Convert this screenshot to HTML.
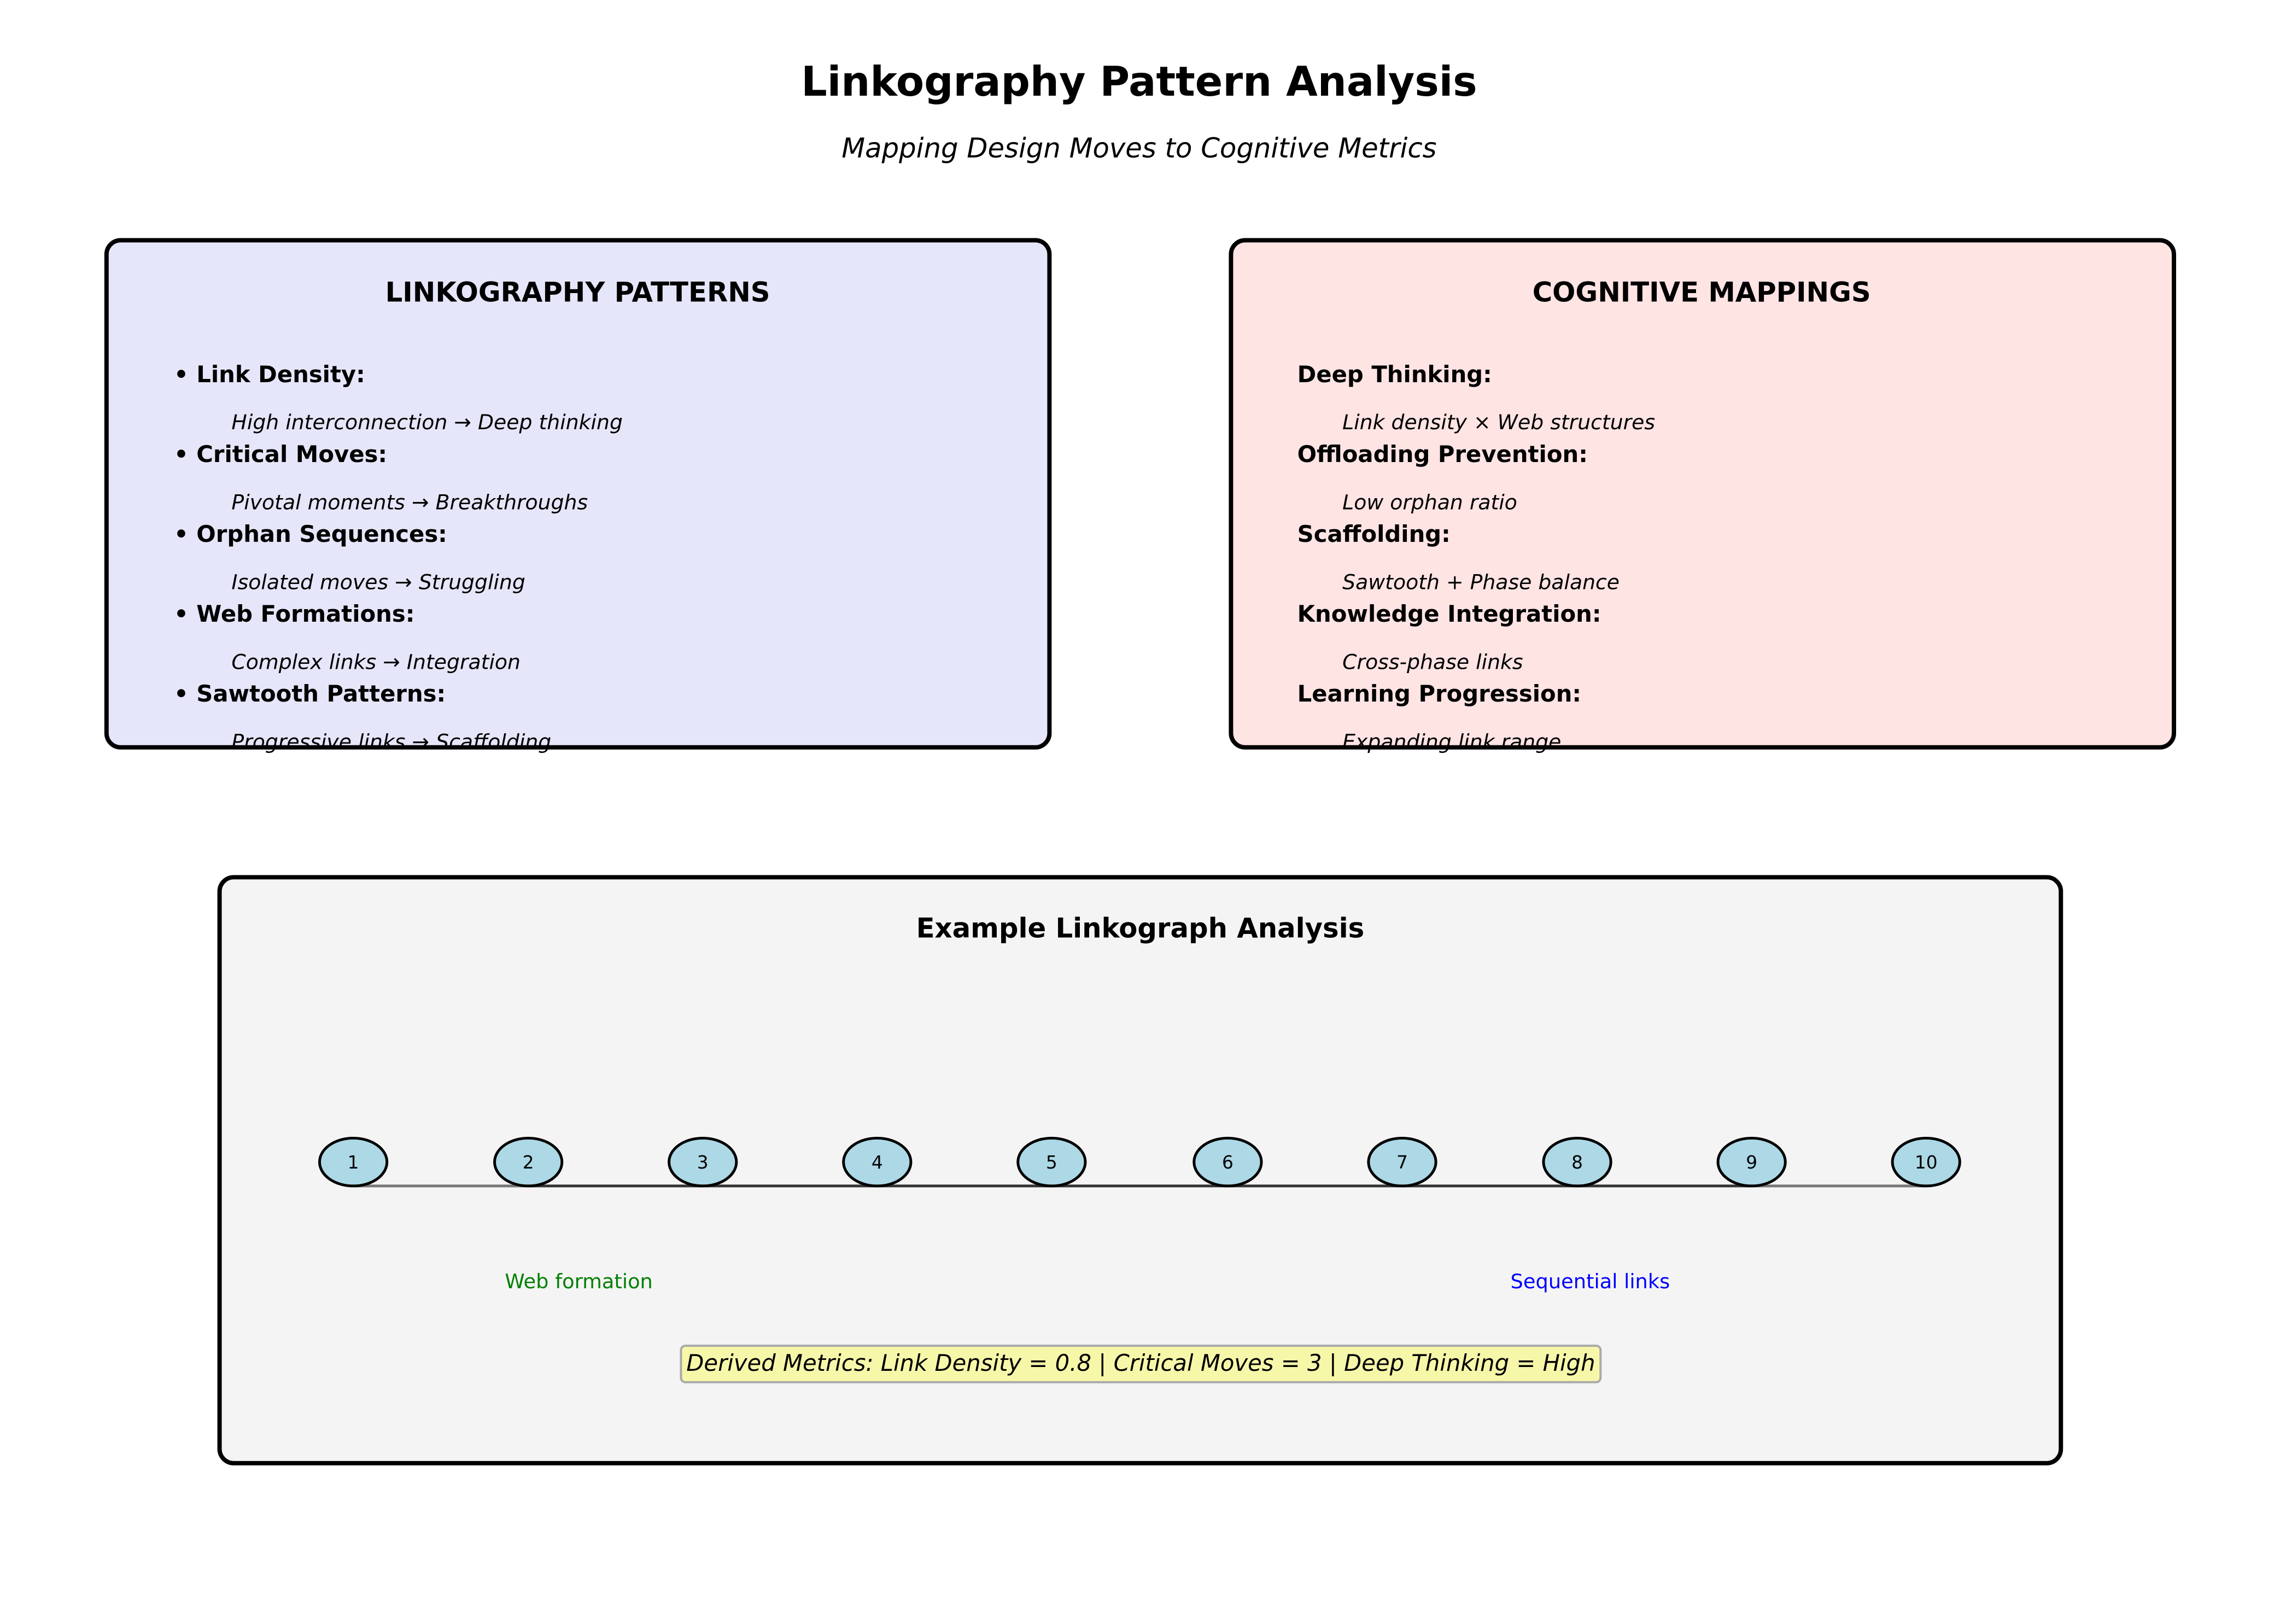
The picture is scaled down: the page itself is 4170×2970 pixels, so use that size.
<!DOCTYPE html>
<html><head><meta charset="utf-8"><style>
html,body{margin:0;padding:0;background:#fff;}
svg{display:block;}
text{font-family:"DejaVu Sans","Liberation Sans",sans-serif;}
</style></head><body>
<svg width="4170" height="2970" viewBox="0 0 4170 2970" xmlns="http://www.w3.org/2000/svg">
<rect width="4170" height="2970" fill="#fff"/>
<g transform="scale(0.994)">
<text x="2096" y="176" font-size="75" font-weight="bold" text-anchor="middle">Linkography Pattern Analysis</text>
<text x="2096" y="290" font-size="50" font-style="italic" text-anchor="middle">Mapping Design Moves to Cognitive Metrics</text>

<rect x="196" y="442" width="1735" height="933" rx="26" fill="#e6e6fa" stroke="#000" stroke-width="8"/>
<text x="1063" y="555" font-size="50" font-weight="bold" text-anchor="middle">LINKOGRAPHY PATTERNS</text>
<g font-size="42" font-weight="bold">
<text x="320" y="703">• Link Density:</text>
<text x="320" y="850">• Critical Moves:</text>
<text x="320" y="997">• Orphan Sequences:</text>
<text x="320" y="1144">• Web Formations:</text>
<text x="320" y="1291">• Sawtooth Patterns:</text>
</g>
<g font-size="38" font-style="italic">
<text x="426" y="790">High interconnection → Deep thinking</text>
<text x="426" y="937">Pivotal moments → Breakthroughs</text>
<text x="426" y="1084">Isolated moves → Struggling</text>
<text x="426" y="1231">Complex links → Integration</text>
<text x="426" y="1378">Progressive links → Scaffolding</text>
</g>

<rect x="2265" y="442" width="1735" height="933" rx="26" fill="#ffe4e4" stroke="#000" stroke-width="8"/>
<text x="3131" y="555" font-size="50" font-weight="bold" text-anchor="middle">COGNITIVE MAPPINGS</text>
<g font-size="42" font-weight="bold">
<text x="2387" y="703">Deep Thinking:</text>
<text x="2387" y="850">Offloading Prevention:</text>
<text x="2387" y="997">Scaffolding:</text>
<text x="2387" y="1144">Knowledge Integration:</text>
<text x="2387" y="1291">Learning Progression:</text>
</g>
<g font-size="38" font-style="italic">
<text x="2470" y="790">Link density × Web structures</text>
<text x="2470" y="937">Low orphan ratio</text>
<text x="2470" y="1084">Sawtooth + Phase balance</text>
<text x="2470" y="1231">Cross-phase links</text>
<text x="2470" y="1378">Expanding link range</text>
</g>

<rect x="404" y="1614" width="3388" height="1078" rx="26" fill="#f4f4f4" stroke="#000" stroke-width="8"/>
<text x="2098" y="1725" font-size="50" font-weight="bold" text-anchor="middle">Example Linkograph Analysis</text>

<line x1="650" y1="2182" x2="972" y2="2182" stroke="#777" stroke-width="5"/>
<line x1="972" y1="2182" x2="3223" y2="2182" stroke="#333" stroke-width="5"/>
<line x1="3223" y1="2182" x2="3544" y2="2182" stroke="#777" stroke-width="5"/>
<g fill="#add8e6" stroke="#000" stroke-width="5">
<ellipse cx="650" cy="2138" rx="62" ry="44"/>
<ellipse cx="972" cy="2138" rx="62" ry="44"/>
<ellipse cx="1293" cy="2138" rx="62" ry="44"/>
<ellipse cx="1614" cy="2138" rx="62" ry="44"/>
<ellipse cx="1935" cy="2138" rx="62" ry="44"/>
<ellipse cx="2259" cy="2138" rx="62" ry="44"/>
<ellipse cx="2580" cy="2138" rx="62" ry="44"/>
<ellipse cx="2902" cy="2138" rx="62" ry="44"/>
<ellipse cx="3223" cy="2138" rx="62" ry="44"/>
<ellipse cx="3544" cy="2138" rx="62" ry="44"/>
</g>
<g font-size="33" text-anchor="middle">
<text x="650" y="2150">1</text><text x="972" y="2150">2</text><text x="1293" y="2150">3</text>
<text x="1614" y="2150">4</text><text x="1935" y="2150">5</text><text x="2259" y="2150">6</text>
<text x="2580" y="2150">7</text><text x="2902" y="2150">8</text><text x="3223" y="2150">9</text>
<text x="3544" y="2150">10</text>
</g>
<text x="1065" y="2370" font-size="37" fill="#008000" text-anchor="middle">Web formation</text>
<text x="2926" y="2370" font-size="37" fill="#0000ff" text-anchor="middle">Sequential links</text>

<rect x="1253" y="2476" width="1692" height="67" rx="8" fill="#f7f7aa" stroke="#aaa" stroke-width="4"/>
<text x="2099" y="2522" font-size="42" font-style="italic" text-anchor="middle">Derived Metrics: Link Density = 0.8 | Critical Moves = 3 | Deep Thinking = High</text>
</g>
</svg>
</body></html>
